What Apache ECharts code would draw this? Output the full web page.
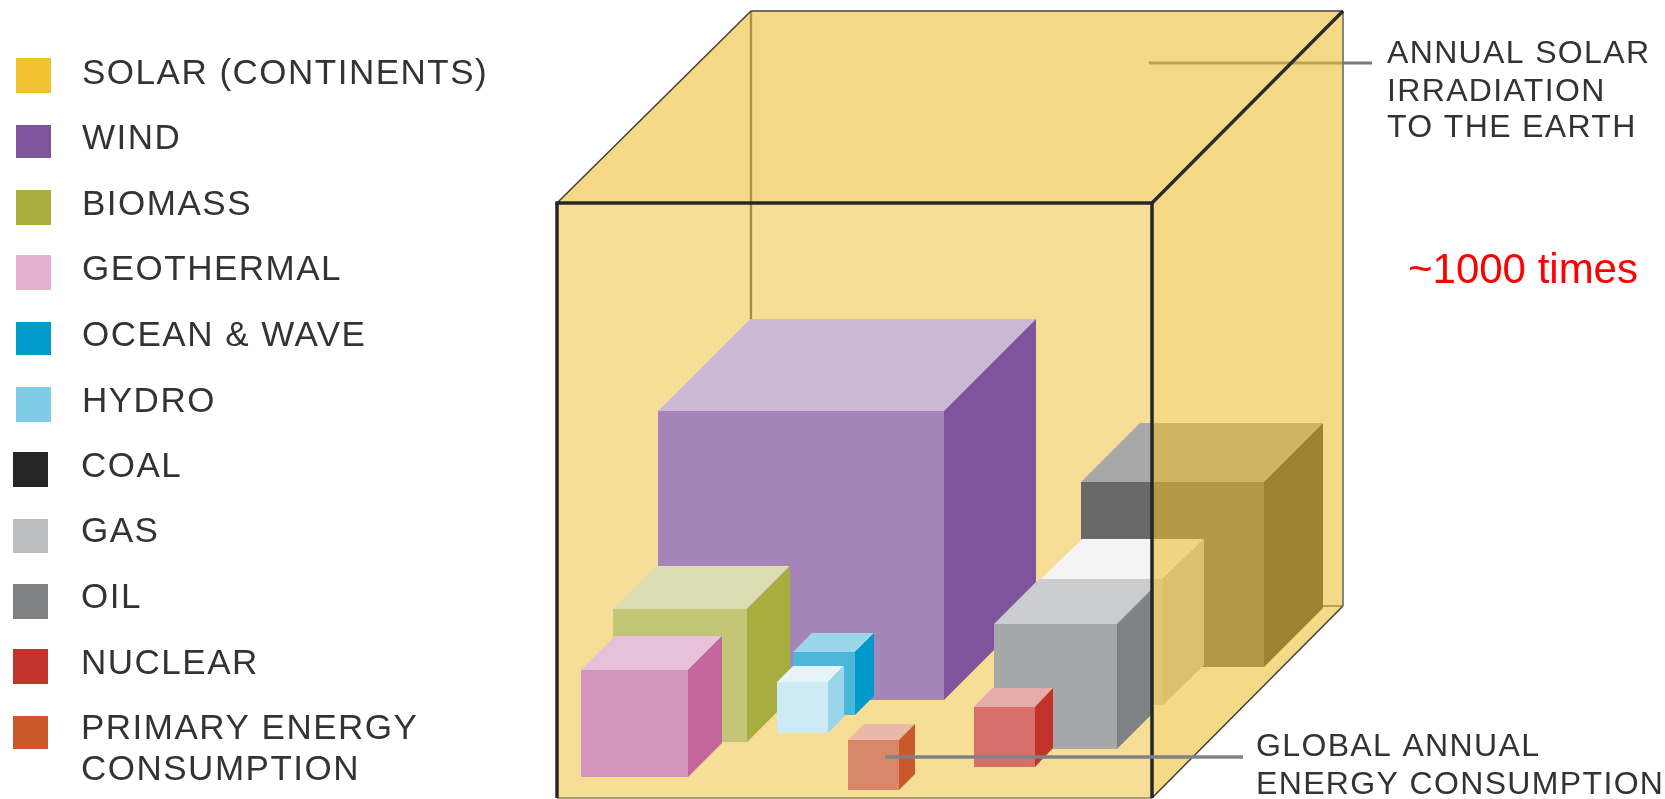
<!DOCTYPE html>
<html>
<head>
<meta charset="utf-8">
<style>html,body{margin:0;padding:0;background:#fff}#c{width:1665px;height:799px}</style>
<script src="https://cdn.jsdelivr.net/npm/echarts@6/dist/echarts.min.js"></script>
</head>
<body>
<div id="c"></div>
<script>
// ---- Legend ----
const legendNames = ['SOLAR (CONTINENTS)','WIND','BIOMASS','GEOTHERMAL','OCEAN & WAVE','HYDRO','COAL','GAS','OIL','NUCLEAR','PRIMARY ENERGY\nCONSUMPTION'];
const legendColors = ['#F0C131','#80539D','#A8AE3C','#E2B2CE','#009ACD','#80CBE5','#262626','#BCBDBF','#808184','#C2342B','#C9582B'];
const swatchX = [16,16,16,16,16,16,13,13,13,13,13];
const swatchTop = [58,125,190,255,322,387,452,519,584,649,716];
const swatchH = [35,33,35,35,33,35,35,34,35,35,33];
const labelX = [82,82,82,82,82,82,81,81,81,81,81];
const labelBase = [86,151,217,282,348,414,479,544,610,676,741];

// ---- Cubes, back to front: [front-left, front-top, width, height, depth-x, depth-y]
const cubeNames = ['Coal','Wind','Gas','Biomass','Ocean & wave','Oil','Geothermal','Hydro','Nuclear','Primary energy'];
const cubeLeft   = [1081, 658,1041, 613, 793, 994, 581, 777, 974, 848];
const cubeTop    = [ 482, 411, 579, 609, 652, 624, 670, 682, 707, 740];
const cubeWidth  = [ 183, 286, 122, 134,  62, 123, 107,  51,  61,  51];
const cubeHeight = [ 185, 289, 126, 133,  63, 125, 107,  51,  60,  50];
const cubeDepthX = [  59,  92,  41,  43,  19,  45,  34,  16,  18,  16];
const cubeDepthY = [  59,  92,  40,  43,  19,  45,  34,  16,  19,  16];
const cubeFront  = ['#686868','#A585B9','#D0D2CE','#C2C676','#4DB7DB','#A6A7A9','#D495BA','#CDEAF5','#D66F6A','#D9876A'];
const cubeUpper  = ['#A8A8A8','#CBB9D7','#F3F4F3','#DCDDB2','#9BD6EA','#CBCCCD','#E6C1D9','#E6F4FA','#E7ABA9','#E9B9A8'];
const cubeSide   = ['#303030','#80549D','#C3C4C3','#A8AE3E','#0099CC','#808184','#C2669B','#9AD5EB','#C2342B','#C9582B'];
const cubeClipX  = [null,null,null,null,null,1153,null,null,null,null];

// ---- Enclosing solar cube
const solar = {left:557, top:203, width:595, height:595, dxLeft:194, dxRight:191, dy:192};
const solarColor = '#EFBE2F';
const coalRearBottomX = 1323;

// ---- Annotations
const noteLines = ['ANNUAL SOLAR','IRRADIATION','TO THE EARTH','GLOBAL ANNUAL','ENERGY CONSUMPTION'];
const noteX = [1387,1387,1387,1256,1256];
const noteBase = [63,101,137,756,794];
const ratioText = '~1000 times';

// Letter spacing of the reference's typeset labels
const proto = CanvasRenderingContext2D.prototype, origFill = proto.fillText;
proto.fillText = function(){
  if ('letterSpacing' in this) {
    this.letterSpacing = this.font.indexOf('35px') >= 0 ? '1.5px' : this.font.indexOf('32px') >= 0 ? '1.35px' : '0px';
  }
  return origFill.apply(this, arguments);
};

const FONT = '"Liberation Sans", Arial, sans-serif';
function poly(api, pts, fill, opacity){
  return {type:'polygon', shape:{points:pts.map(p=>api.coord(p))}, style:{fill:fill, opacity:opacity===undefined?1:opacity, stroke:null}, silent:true};
}
function seg(api, a, b, color, w){
  const p=api.coord(a), q=api.coord(b);
  return {type:'line', shape:{x1:p[0],y1:p[1],x2:q[0],y2:q[1]}, style:{stroke:color,lineWidth:w,lineCap:'butt'}, silent:true};
}
function single(z, render){
  return {type:'custom', coordinateSystem:'cartesian2d', z:z, clip:false, silent:true, animation:false,
          data:[[0,0]], encode:{x:0,y:1}, renderItem:render};
}
const S=solar, SR=S.left+S.width, SB=S.top+S.height, BT=S.top-S.dy, BR=SR+S.dxRight, BL=S.left+S.dxLeft, BB=SB-S.dy;

const cubeData = cubeNames.map((n,i)=>({name:n, value:[cubeLeft[i],cubeTop[i],cubeWidth[i],cubeHeight[i],cubeDepthX[i],cubeDepthY[i]]}));
const legendData = legendNames.map((n,i)=>({name:n, value:[swatchX[i],swatchTop[i]]}));

const series = [
  // lines seen through the translucent solar faces
  single(1,(p,api)=>({type:'group',children:[
    seg(api,[BL,BT],[BL,319],'#5a5a5a',2.4),
    seg(api,[1149,63],[1372,63],'#7a7b80',3)
  ]})),
  single(2,(p,api)=>({type:'group',children:[
    poly(api,[[S.left,S.top],[SR,S.top],[SR,SB],[S.left,SB]],solarColor,0.5),
    poly(api,[[S.left,S.top],[BL,BT],[BR,BT],[SR,S.top]],solarColor,0.58)
  ]})),
  {type:'custom',coordinateSystem:'cartesian2d',z:3,clip:false,silent:true,animation:false,data:cubeData,encode:{x:0,y:1},
   renderItem:(p,api)=>{
    const i=p.dataIndex, x=api.value(0), y=api.value(1), w=api.value(2), h=api.value(3), dx=api.value(4), dy=api.value(5);
    const g={type:'group',children:[
      poly(api,[[x,y],[x+w,y],[x+w,y+h],[x,y+h]],cubeFront[i]),
      poly(api,[[x,y],[x+dx,y-dy],[x+w+dx,y-dy],[x+w,y]],cubeUpper[i]),
      poly(api,[[x+w,y],[x+w+dx,y-dy],[x+w+dx,y+h-dy],[x+w,y+h]],cubeSide[i])
    ]};
    if(cubeClipX[i]!==null){
      const a=api.coord([0,0]), b=api.coord([cubeClipX[i],799]);
      g.clipPath={type:'rect',shape:{x:a[0],y:a[1],width:b[0]-a[0],height:b[1]-a[1]}};
    }
    return g;
   }},
  single(4,(p,api)=>poly(api,[[SR,S.top],[BR,BT],[BR,BB],[SR,SB]],solarColor,0.58)),
  single(5,(p,api)=>({type:'group',children:[
    seg(api,[S.left,S.top],[BL,BT],'#45423a',1.6),
    seg(api,[BL,BT],[BR,BT],'#45423a',1.6),
    seg(api,[BR,BT],[BR,BB],'#6c6c66',1.6),
    seg(api,[BR,BB],[SR,SB],'#45423a',1.6),
    seg(api,[coalRearBottomX,BB],[BR,BB],'#8f7a3c',1.2),
    seg(api,[SR,S.top],[BR,BT],'#2b2b2b',3.4),
    seg(api,[S.left,SB],[SR,SB],'#8f8654',1.5),
    seg(api,[S.left-1.75,S.top],[SR+1.75,S.top],'#262626',3.5),
    seg(api,[S.left,S.top],[S.left,SB],'#262626',3.5),
    seg(api,[SR,S.top],[SR,SB],'#262626',3.5)
  ]})),
  single(6,(p,api)=>seg(api,[885,757],[1243,757],'#808184',3.5)),
  {type:'custom',coordinateSystem:'cartesian2d',z:7,clip:false,silent:true,animation:false,data:legendData,encode:{x:0,y:1},
   renderItem:(p,api)=>{
    const i=p.dataIndex, x=api.value(0), y=api.value(1);
    const a=api.coord([x,y]), b=api.coord([x+35,y+swatchH[i]]), t=api.coord([labelX[i],labelBase[i]]);
    return {type:'group',children:[
      {type:'rect',shape:{x:a[0],y:a[1],width:b[0]-a[0],height:b[1]-a[1]},style:{fill:legendColors[i]},silent:true},
      {type:'text',x:t[0],y:t[1]-32,style:{text:legendNames[i],font:'35px '+FONT,fill:'#333333',verticalAlign:'top',align:'left',lineHeight:41},silent:true}
    ]};
   }},
  {type:'custom',coordinateSystem:'cartesian2d',z:8,clip:false,silent:true,animation:false,data:noteLines.map((n,i)=>({name:n,value:[noteX[i],noteBase[i]]})),encode:{x:0,y:1},
   renderItem:(p,api)=>{
    const t=api.coord([api.value(0),api.value(1)]);
    return {type:'text',x:t[0],y:t[1]+7,style:{text:noteLines[p.dataIndex],font:'32px '+FONT,fill:'#333333',verticalAlign:'bottom',align:'left'},silent:true};
   }},
  single(9,(p,api)=>{
    const t=api.coord([1408,283]);
    return {type:'text',x:t[0],y:t[1]+9,style:{text:ratioText,font:'42px '+FONT,fill:'#ff0000',verticalAlign:'bottom',align:'left'},silent:true};
  })
];

const chart = echarts.init(document.getElementById('c'),null,{renderer:'canvas'});
chart.setOption({
  animation:false,
  backgroundColor:'#ffffff',
  tooltip:{show:false},
  grid:{left:0,right:0,top:0,bottom:0},
  xAxis:{type:'value',min:0,max:1665,show:false},
  yAxis:{type:'value',min:0,max:799,inverse:true,show:false},
  series:series
});
</script>
</body>
</html>
